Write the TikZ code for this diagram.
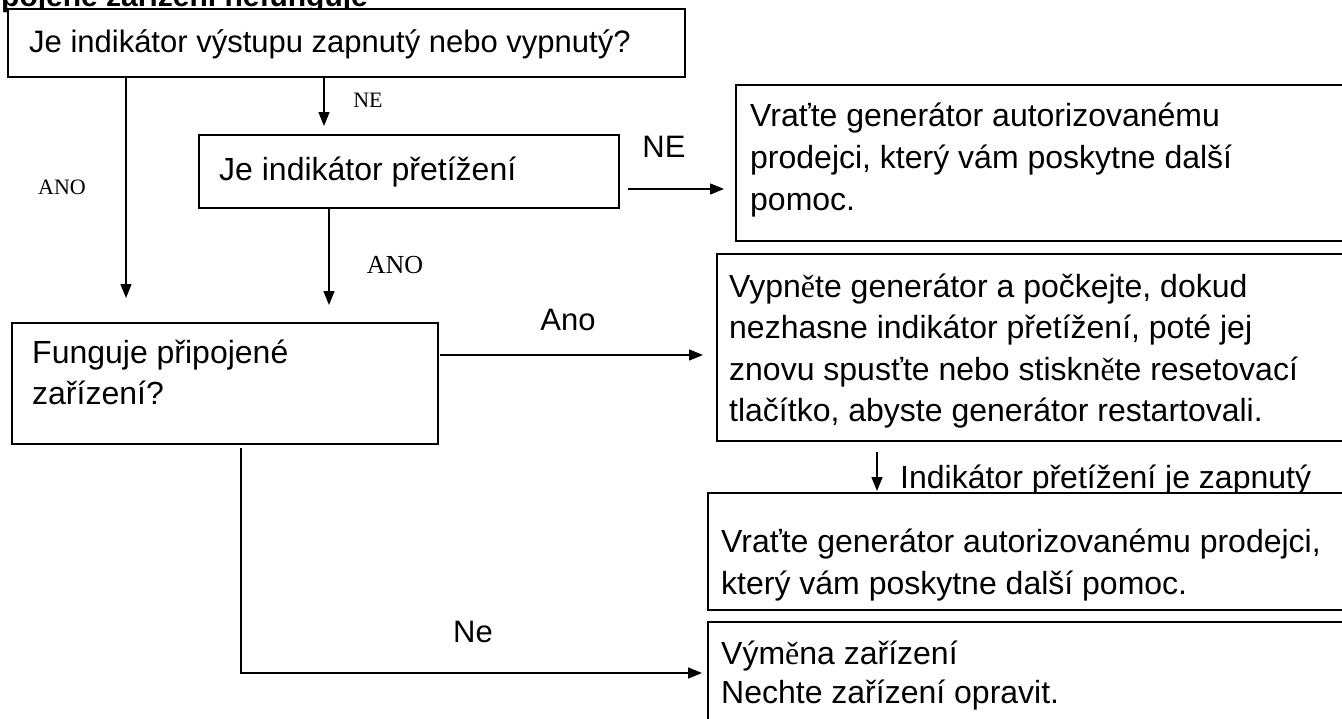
\documentclass[tikz,border=0pt]{standalone}
\usepackage{fontspec}
\setmainfont{Liberation Sans}
\newfontfamily\serifF{Liberation Serif}
\usetikzlibrary{arrows.meta}
\newcommand{\se}{{\serifF ě}}
\begin{document}
\begin{tikzpicture}[x=1pt,y=-1pt,
  box/.style={draw,line width=1.7pt,fill=white,anchor=north west,inner sep=0pt},
  conn/.style={line width=1.4pt},
  arr/.style={conn,-{Triangle[length=14pt,width=11pt]}},
  txt/.style={font=\fontsize{32}{38}\selectfont,anchor=base west,inner sep=0pt},
  lbl/.style={font=\fontsize{31}{38}\selectfont,inner sep=0pt},
  slbl/.style={font=\serifF\fontsize{22}{26}\selectfont,inner sep=0pt}]
\useasboundingbox (0,0) rectangle (1342,718);
\clip (0,0) rectangle (1342,718);

% title (cut off at top)
\node[font=\bfseries\fontsize{30}{36}\selectfont,anchor=base west,inner sep=0pt] (title) at (1,6) {pojené zařízení nefunguje};

% boxes
\node[box,minimum width=677pt,minimum height=68pt] (b1) at (7,8) {};
\node[box,minimum width=420pt,minimum height=73pt] (b2) at (198,134) {};
\node[box,minimum width=620pt,minimum height=156pt] (b3) at (735,84) {};
\node[box,minimum width=426pt,minimum height=121pt] (b4) at (11,322) {};
\node[box,minimum width=640pt,minimum height=187pt] (b5) at (716,253) {};
\node[txt] (t6) at (900,488) {Indikátor přetížení je zapnutý};
\node[box,minimum width=650pt,minimum height=117pt] (b6) at (707,492) {};
\node[box,minimum width=650pt,minimum height=110pt] (b7) at (707,621) {};

% texts
\node[txt,font=\fontsize{31}{38}\selectfont] (t1) at (29,52) {Je indikátor výstupu zapnutý nebo vypnutý?};
\node[txt] (t2) at (219,180) {Je indikátor přetížení};
\node[txt] (t3a) at (750,126) {Vraťte generátor autorizovanému};
\node[txt] (t3b) at (750,168) {prodejci, který vám poskytne další};
\node[txt] (t3c) at (750,210) {pomoc.};
\node[txt] (t4a) at (32,363) {Funguje připojené};
\node[txt] (t4b) at (32,404) {zařízení?};
\node[txt] (t5a) at (729,297) {Vypn\se te generátor a počkejte, dokud};
\node[txt] (t5b) at (729,338.5) {nezhasne indikátor přetížení, poté jej};
\node[txt] (t5c) at (729,380) {znovu spusťte nebo stiskn\se te resetovací};
\node[txt] (t5d) at (729,421.5) {tlačítko, abyste generátor restartovali.};
\node[txt] (t6a) at (721,552) {Vraťte generátor autorizovanému prodejci,};
\node[txt] (t6b) at (721,594) {který vám poskytne další pomoc.};
\node[txt] (t7a) at (721,664) {Vým\se na zařízení};
\node[txt] (t7b) at (721,703) {Nechte zařízení opravit.};

% labels
\node[slbl] (l1) at (62,187) {ANO};
\node[slbl] (l2) at (368,100) {NE};
\node[slbl,font=\serifF\fontsize{26}{30}\selectfont] (l3) at (395,265) {ANO};
\node[lbl] (l4) at (664,147) {NE};
\node[lbl] (l5) at (568,320) {Ano};
\node[lbl] (l6) at (473,632) {Ne};

% connectors
\coordinate (e1) at (126,298);
\coordinate (e2) at (324,126);
\coordinate (e3) at (329,305);
\coordinate (s4) at (628,189);
\coordinate (e4) at (724,189);
\coordinate (s5) at (440,355);
\coordinate (e5) at (703,355);
\coordinate (s6) at (877,452);
\coordinate (e6) at (877,491);
\coordinate (s7) at (241,448);
\coordinate (c7) at (241,673);
\coordinate (e7) at (702,673);
\draw[arr] (b1.south -| e1) -- (e1);
\draw[arr] (b1.south -| e2) -- (e2);
\draw[arr] (b2.south -| e3) -- (e3);
\draw[arr] (s4) -- (e4);
\draw[arr] (s5) -- (e5);
\draw[arr] (s6) -- (e6);
\draw[arr] (s7) -- (c7) -- (e7);
\end{tikzpicture}
\end{document}
